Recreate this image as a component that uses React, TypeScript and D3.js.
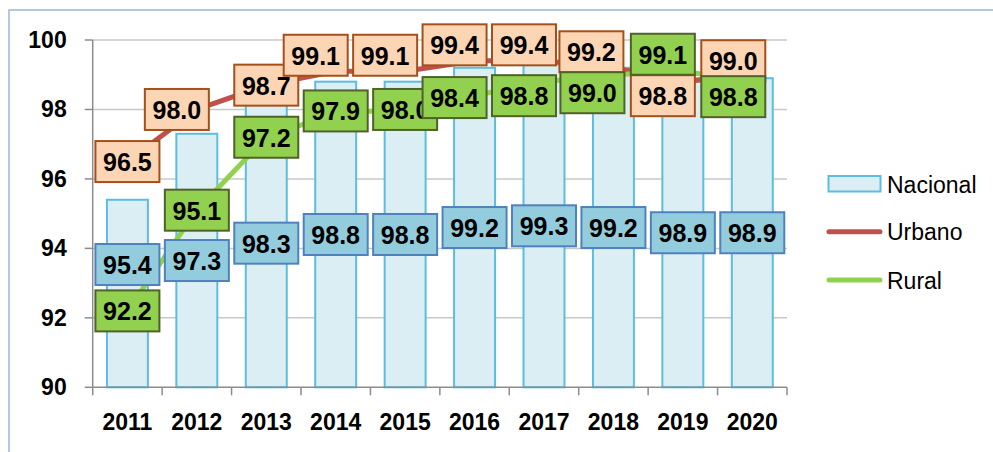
import * as d3 from "d3";

const years = ["2011", "2012", "2013", "2014", "2015", "2016", "2017", "2018", "2019", "2020"];
const nacional = [95.4, 97.3, 98.3, 98.8, 98.8, 99.2, 99.3, 99.2, 98.9, 98.9];
const urbano = [96.5, 98.0, 98.7, 99.1, 99.1, 99.4, 99.4, 99.2, 98.8, 99.0];
const rural = [92.2, 95.1, 97.2, 97.9, 98.0, 98.4, 98.8, 99.0, 99.1, 98.8];
const yTicks = [90, 92, 94, 96, 98, 100];

// hand placed label nudges (px), like the moved labels in the original sheet
const nacionalShift: [number, number][] = [[0, -29], [0, 0], [0, 0], [0, 0], [0, 0], [0, 0], [0, 0], [0, 0], [0, 0], [0, 0]];
const urbanoShift: [number, number][] = [[0, 0], [-20, 0], [0, 0], [-20, -16], [-20, -16], [-20, -16], [-20, -16], [-22, -16], [-20, 14], [-19, -14]];
const ruralShift: [number, number][] = [[0, 0], [0, 0], [0, 0], [0, -2], [0, 0], [-20, 2], [-20, 14], [-21, 18], [-20, -17], [-19, 15]];

const W = 993;
const H = 452;
const left = 92.7;
const right = 787;
const top = 40;
const bottom = 387.3;

const font = "'Liberation Sans', Arial, sans-serif";
const boxW = 64;
const boxH = 41;

const x = d3.scaleBand<string>().domain(years).range([left, right]).paddingInner(0.41).paddingOuter(0.205);
const y = d3.scaleLinear().domain([90, 100]).range([bottom, top]);
const cx = (yr: string) => (x(yr) as number) + x.bandwidth() / 2;

const line = d3
  .line<number>()
  .x((_, i) => cx(years[i]))
  .y((d) => y(d));

type LabelProps = { cxp: number; cyp: number; text: string; fill: string; stroke: string };
const Label = ({ cxp, cyp, text, fill, stroke }: LabelProps) => (
  <g>
    <rect x={cxp - boxW / 2} y={cyp - boxH / 2} width={boxW} height={boxH} fill={fill} stroke={stroke} strokeWidth={2} />
    <text x={cxp} y={cyp + 9.5} textAnchor="middle" fontFamily={font} fontWeight="bold" fontSize={25} fill="#000">
      {text}
    </text>
  </g>
);

export default function App() {
  const step = x.step();
  const tickXs = d3.range(years.length + 1).map((i) => left + i * step);

  return (
    <svg width={W} height={H} style={{ position: "absolute", left: 0, top: 0, background: "#fff" }}>
      <rect x={9} y={10} width={1100} height={600} fill="#fff" stroke="#9BB7D9" strokeWidth={1.5} />

      {/* gridlines */}
      {yTicks.slice(1).map((t) => (
        <line key={t} x1={left} x2={right} y1={y(t)} y2={y(t)} stroke="#C8C8C8" strokeWidth={1.5} />
      ))}

      {/* bars */}
      {years.map((yr, i) => (
        <rect
          key={yr}
          x={x(yr)}
          y={y(nacional[i])}
          width={x.bandwidth()}
          height={bottom - y(nacional[i])}
          fill="#DBEEF4"
          stroke="#5BBDE0"
          strokeWidth={2}
        />
      ))}

      {/* axes */}
      <line x1={left} x2={left} y1={top} y2={bottom} stroke="#8C8C8C" strokeWidth={1.5} />
      <line x1={left} x2={right} y1={bottom} y2={bottom} stroke="#8C8C8C" strokeWidth={1.5} />
      {yTicks.map((t) => (
        <g key={t}>
          <line x1={left - 8} x2={left} y1={y(t)} y2={y(t)} stroke="#8C8C8C" strokeWidth={1.5} />
          <text x={66.7} y={y(t) + 8} textAnchor="end" fontFamily={font} fontWeight="bold" fontSize={23} fill="#000">
            {t}
          </text>
        </g>
      ))}
      {tickXs.map((tx, i) => (
        <line key={i} x1={tx} x2={tx} y1={bottom} y2={bottom + 8} stroke="#8C8C8C" strokeWidth={1.5} />
      ))}
      {years.map((yr) => (
        <text key={yr} x={cx(yr)} y={430} textAnchor="middle" fontFamily={font} fontWeight="bold" fontSize={23} fill="#000">
          {yr}
        </text>
      ))}

      {/* lines */}
      <path d={line(urbano) ?? ""} fill="none" stroke="#C0504D" strokeWidth={5} strokeLinejoin="round" strokeLinecap="round" />
      <path d={line(rural) ?? ""} fill="none" stroke="#92D050" strokeWidth={5} strokeLinejoin="round" strokeLinecap="round" />

      {/* data labels */}
      {years.map((yr, i) => (
        <Label
          key={"n" + yr}
          cxp={cx(yr) + nacionalShift[i][0]}
          cyp={(bottom + y(nacional[i])) / 2 + nacionalShift[i][1]}
          text={nacional[i].toFixed(1)}
          fill="#93CDDD"
          stroke="#4F81BD"
        />
      ))}
      {years.map((yr, i) => (
        <Label
          key={"u" + yr}
          cxp={cx(yr) + urbanoShift[i][0]}
          cyp={y(urbano[i]) + urbanoShift[i][1]}
          text={urbano[i].toFixed(1)}
          fill="#FCD5B5"
          stroke="#A4501B"
        />
      ))}
      {years.map((yr, i) => (
        <Label
          key={"r" + yr}
          cxp={cx(yr) + ruralShift[i][0]}
          cyp={y(rural[i]) + ruralShift[i][1]}
          text={rural[i].toFixed(1)}
          fill="#92D050"
          stroke="#4F6228"
        />
      ))}

      {/* legend */}
      <rect x={828.5} y={176} width={52} height={15.5} fill="#DBEEF4" stroke="#5BBDE0" strokeWidth={2} />
      <text x={887} y={192.5} fontFamily={font} fontSize={23} fill="#000">Nacional</text>
      <line x1={829} x2={880} y1={231.7} y2={231.7} stroke="#C0504D" strokeWidth={5} strokeLinecap="round" />
      <text x={887} y={240} fontFamily={font} fontSize={23} fill="#000">Urbano</text>
      <line x1={829} x2={880} y1={280} y2={280} stroke="#92D050" strokeWidth={5} strokeLinecap="round" />
      <text x={887} y={288.5} fontFamily={font} fontSize={23} fill="#000">Rural</text>
    </svg>
  );
}
